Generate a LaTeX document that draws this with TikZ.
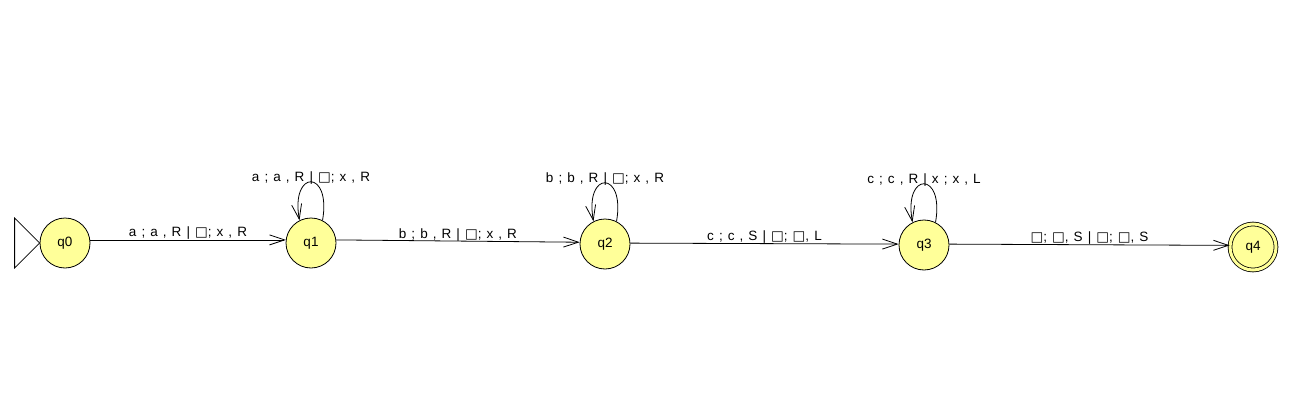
\documentclass[tikz,border=0pt]{standalone}
\usepackage{fontspec}
\setmainfont{Liberation Sans}[WordSpace=1.35]
\newfontfamily\boxfont{DejaVu Sans}
\usepackage{tikz}
\usetikzlibrary{arrows.meta, positioning, calc}
\definecolor{stateyellow}{RGB}{255,255,153}
\newcommand{\tmfont}{\fontsize{13.5pt}{16pt}\selectfont}
\newcommand{\blank}{{\boxfont □}}

\begin{document}
\begin{tikzpicture}[x=1pt, y=1pt, >={Straight Barb[length=15pt, width=10pt]}, line width=0.8pt, every node/.style={font=\tmfont}]
            % node styles: yellow states, labels sit on their base line
            \tikzset{
                tmstate/.style={circle, draw, fill=stateyellow, minimum size=50pt, inner sep=0pt, line width=0.8pt},
                accstate/.style={tmstate, double=stateyellow, double distance=3pt},
                elab/.style={anchor=base, yshift=3pt, inner sep=0pt},
                llab/.style={anchor=base, yshift=0.5pt, inner sep=0pt}
            }
            \useasboundingbox (0,0) rectangle (1292,416);
            % states
            \node[tmstate] (q0) at (65,173) {q0};
            \node[tmstate] (q1) at (311,173) {q1};
            \node[tmstate] (q2) at (605,172) {q2};
            \node[tmstate] (q3) at (924,171) {q3};
            \node[accstate, minimum size=46pt] (q4) at (1253,169) {q4};
            % initial marker
            \draw (q0.west) -- ++(-25,25) -- ++(0,-50) -- cycle;
            % transitions between states
            \draw[->] (q0.7) -- node[elab] {a ; a , R | \blank; x , R} (q1.173);
            \draw[->] (q1.7) -- node[elab] {b ; b , R | \blank; x , R} (q2.176);
            \draw[->] (q2.2) -- node[elab] {c ; c , S | \blank; \blank, L} (q3.178);
            \draw[->] (q3.2) -- node[elab] {\blank; \blank, S | \blank; \blank, S} (q4.176);
            % loops
            \draw[->] (q1.63) .. controls +(80:52) and +(100:52) .. node[llab] {a ; a , R | \blank; x , R} (q1.117);
            \draw[->] (q2.63) .. controls +(80:52) and +(100:52) .. node[llab] {b ; b , R | \blank; x , R} (q2.117);
            \draw[->] (q3.63) .. controls +(80:52) and +(100:52) .. node[llab] {c ; c , R | x ; x , L} (q3.117);
        \end{tikzpicture}
\end{document}
